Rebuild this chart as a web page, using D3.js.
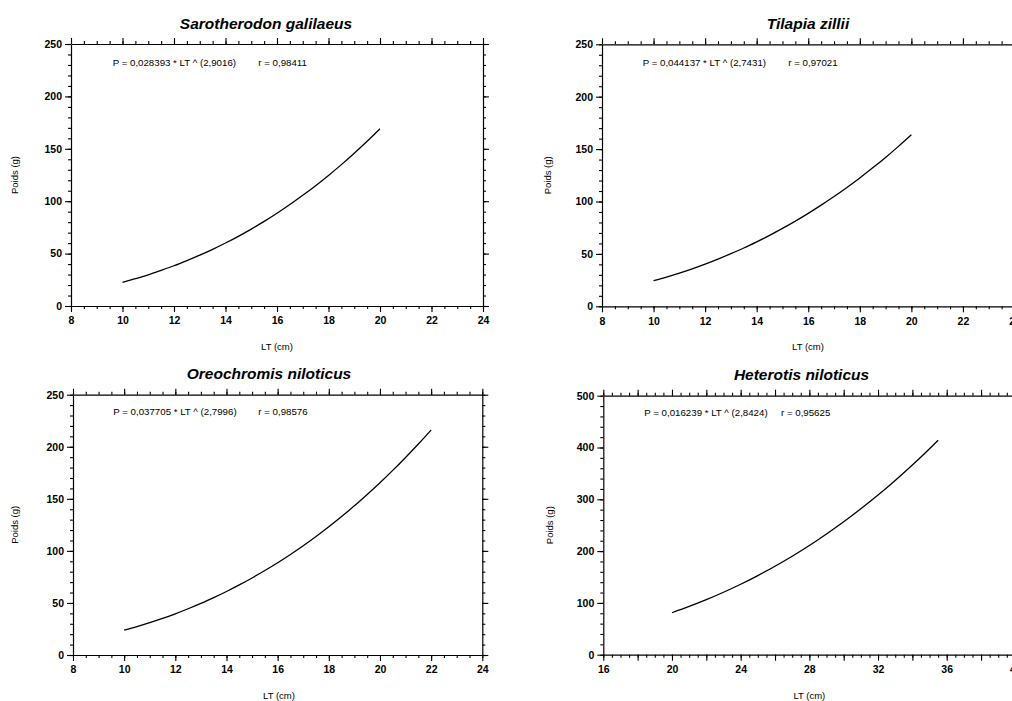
<!DOCTYPE html>
<html>
<head>
<meta charset="utf-8">
<script src="https://cdn.jsdelivr.net/npm/d3@7"></script>
<style>
  html, body { margin: 0; padding: 0; background: #fff; }
  svg { display: block; }
  text { font-family: "Liberation Sans", Arial, sans-serif; fill: #000; }
</style>
</head>
<body>
<svg id="chart" width="1012" height="701"></svg>
<script>
// ---------- data ----------
const titles = ["Sarotherodon galilaeus", "Tilapia zillii", "Oreochromis niloticus", "Heterotis niloticus"];
const equations = [
  "P = 0,028393 * LT ^ (2,9016)",
  "P = 0,044137 * LT ^ (2,7431)",
  "P = 0,037705 * LT ^ (2,7996)",
  "P = 0,016239 * LT ^ (2,8424)"
];
const correlations = ["r = 0,98411", "r = 0,97021", "r = 0,98576", "r = 0,95625"];

const sgLT = [10,10.5,11,11.5,12,12.5,13,13.5,14,14.5,15,15.5,16,16.5,17,17.5,18,18.5,19,19.5,20];
const sgP  = [22.6,26.1,29.8,34.0,38.4,43.3,48.5,54.1,60.1,66.5,73.4,80.7,88.5,96.8,105.6,114.8,124.6,134.9,145.8,157.2,169.2];

const tzLT = [10,10.5,11,11.5,12,12.5,13,13.5,14,14.5,15,15.5,16,16.5,17,17.5,18,18.5,19,19.5,20];
const tzP  = [24.4,27.9,31.7,35.8,40.3,45.1,50.2,55.6,61.5,67.7,74.3,81.3,88.7,96.5,104.7,113.4,122.5,132.1,142.1,152.6,163.6];

const onLT = [10,10.5,11,11.5,12,12.5,13,13.5,14,14.5,15,15.5,16,16.5,17,17.5,18,18.5,19,19.5,20,20.5,21,21.5,22];
const onP  = [23.8,27.2,31.0,35.1,39.6,44.4,49.5,55.1,61.0,67.3,74.0,81.1,88.6,96.6,105.0,113.9,123.2,133.0,143.3,154.2,165.5,177.3,189.7,202.6,216.1];

const hnLT = [20,21,22,23,24,25,26,27,28,29,30,31,32,33,34,35,35.5];
const hnP  = [81.0,93.1,106.2,120.5,136.0,152.8,170.8,190.1,210.8,233.0,256.5,281.6,308.2,336.4,366.1,397.6,413.9];

const xTicksA = [8,10,12,14,16,18,20,22,24];
const yTicksA = [0,50,100,150,200,250];
const xTicksH = [16,20,24,28,32,36,40];
const yTicksH = [0,100,200,300,400,500];

const xLabel = "LT (cm)";
const yLabel = "Poids (g)";

// ---------- layout ----------
const panels = [
  { lt: sgLT, p: tzP === null ? null : sgP, xDom: [8,24], yDom: [0,250], xt: xTicksA, yt: yTicksA,
    xMajorStep: 2, xMinorStep: 0.5, yMinorStep: 10,
    x0: 71, x1: 483, y0: 44, y1: 306, titleX: 266, titleY: 29.3,
    eqX: 112.7, eqY: 65.5, rX: 258.3, ylabX: 15 },
  { lt: tzLT, p: tzP, xDom: [8,24], yDom: [0,250], xt: xTicksA, yt: yTicksA,
    xMajorStep: 2, xMinorStep: 0.5, yMinorStep: 10,
    x0: 602, x1: 1014.5, y0: 44.3, y1: 306.3, titleX: 808, titleY: 29.3,
    eqX: 642.7, eqY: 66, rX: 788.3, ylabX: 547.7 },
  { lt: onLT, p: onP, xDom: [8,24], yDom: [0,250], xt: xTicksA, yt: yTicksA,
    xMajorStep: 2, xMinorStep: 0.5, yMinorStep: 10,
    x0: 73, x1: 482.3, y0: 394.7, y1: 655, titleX: 269, titleY: 379.3,
    eqX: 113.3, eqY: 415.3, rX: 258.3, ylabX: 15 },
  { lt: hnLT, p: hnP, xDom: [16,40], yDom: [0,500], xt: xTicksH, yt: yTicksH,
    xMajorStep: 2, xMinorStep: 0.5, yMinorStep: 20,
    x0: 603.3, x1: 1015.4, y0: 395.7, y1: 654.7, titleX: 801.5, titleY: 379.7,
    eqX: 644.3, eqY: 415.7, rX: 781, ylabX: 550 }
];

const svg = d3.select("#chart");

function range(a, b, s) {
  const out = [];
  const n = Math.round((b - a) / s);
  for (let i = 0; i <= n; i++) out.push(+(a + i * s).toFixed(4));
  return out;
}

panels.forEach((cfg, i) => {
  const x = d3.scaleLinear().domain(cfg.xDom).range([cfg.x0, cfg.x1]);
  const y = d3.scaleLinear().domain(cfg.yDom).range([cfg.y1, cfg.y0]);
  const g = svg.append("g");

  const xMinor = range(cfg.xDom[0], cfg.xDom[1], cfg.xMinorStep);
  const xMajor = range(cfg.xDom[0], cfg.xDom[1], cfg.xMajorStep);
  const yMinor = range(cfg.yDom[0], cfg.yDom[1], cfg.yMinorStep);
  const labelSet = new Set(cfg.xt);
  const yLabelSet = new Set(cfg.yt);

  function styleAxis(sel) {
    sel.selectAll("path.domain").attr("stroke", "#000").attr("stroke-width", 1.2);
    sel.selectAll(".tick line").attr("stroke", "#000").attr("stroke-width", 1.1);
    sel.selectAll(".tick text")
      .style("font-family", '"Liberation Sans", Arial, sans-serif')
      .style("font-size", "10.5px").style("font-weight", "bold").attr("fill", "#000");
  }

  // bottom
  g.append("g").attr("transform", `translate(0,${cfg.y1})`)
    .call(d3.axisBottom(x).tickValues(xMinor).tickSize(3).tickSizeOuter(0).tickFormat(""))
    .call(s => s.select(".domain").remove()).call(styleAxis);
  g.append("g").attr("transform", `translate(0,${cfg.y1})`)
    .call(d3.axisBottom(x).tickValues(xMajor).tickSize(6).tickSizeOuter(0).tickPadding(5)
      .tickFormat(d => labelSet.has(d) ? d : ""))
    .call(styleAxis);
  // top
  g.append("g").attr("transform", `translate(0,${cfg.y0})`)
    .call(d3.axisTop(x).tickValues(xMinor).tickSize(3).tickSizeOuter(0).tickFormat(""))
    .call(s => s.select(".domain").remove()).call(styleAxis);
  g.append("g").attr("transform", `translate(0,${cfg.y0})`)
    .call(d3.axisTop(x).tickValues(xMajor).tickSize(6).tickSizeOuter(0).tickFormat(""))
    .call(styleAxis);
  // left
  g.append("g").attr("transform", `translate(${cfg.x0},0)`)
    .call(d3.axisLeft(y).tickValues(yMinor).tickSize(3).tickSizeOuter(0).tickFormat(""))
    .call(s => s.select(".domain").remove()).call(styleAxis);
  g.append("g").attr("transform", `translate(${cfg.x0},0)`)
    .call(d3.axisLeft(y).tickValues(cfg.yt).tickSize(6).tickSizeOuter(0).tickPadding(3)
      .tickFormat(d => yLabelSet.has(d) ? d : ""))
    .call(styleAxis);
  // right
  g.append("g").attr("transform", `translate(${cfg.x1},0)`)
    .call(d3.axisRight(y).tickValues(yMinor).tickSize(3).tickSizeOuter(0).tickFormat(""))
    .call(s => s.select(".domain").remove()).call(styleAxis);
  g.append("g").attr("transform", `translate(${cfg.x1},0)`)
    .call(d3.axisRight(y).tickValues(cfg.yt).tickSize(6).tickSizeOuter(0).tickFormat(""))
    .call(styleAxis);

  // curve
  const pts = cfg.lt.map((v, k) => [v, cfg.p[k]]);
  g.append("path")
    .datum(pts)
    .attr("fill", "none").attr("stroke", "#000").attr("stroke-width", 1.3)
    .attr("d", d3.line().x(d => x(d[0])).y(d => y(d[1])).curve(d3.curveMonotoneX));

  // title
  g.append("text").attr("x", cfg.titleX).attr("y", cfg.titleY)
    .attr("text-anchor", "middle")
    .style("font-size", "15.5px").style("font-weight", "bold").style("font-style", "italic")
    .text(titles[i]);

  // equation
  g.append("text").attr("x", cfg.eqX).attr("y", cfg.eqY)
    .style("font-size", "9.7px").text(equations[i]);
  g.append("text").attr("x", cfg.rX).attr("y", cfg.eqY)
    .style("font-size", "9.7px").text(correlations[i]);

  // axis labels
  const xc = (cfg.x0 + (cfg.x0 + 412)) / 2;
  g.append("text").attr("x", xc).attr("y", cfg.y1 + 44)
    .attr("text-anchor", "middle").style("font-size", "9.5px").text(xLabel);
  const yc = (cfg.y0 + cfg.y1) / 2;
  g.append("text").attr("transform", `translate(${cfg.ylabX + 3},${yc}) rotate(-90)`)
    .attr("text-anchor", "middle").style("font-size", "9.5px").text(yLabel);
});
</script>
</body>
</html>
